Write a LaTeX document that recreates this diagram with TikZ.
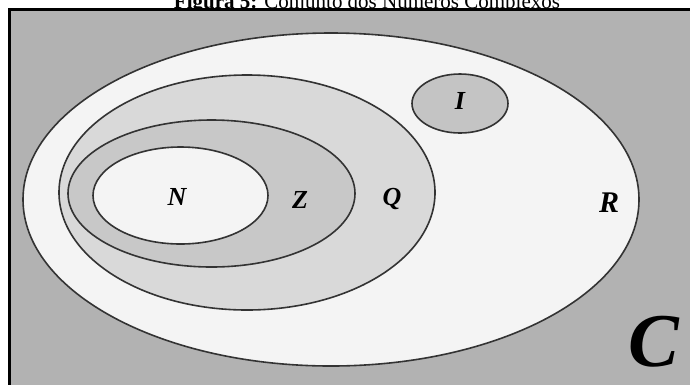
\documentclass[tikz,border=0pt]{standalone}
\usepackage{fontspec}
\setmainfont{Liberation Serif}
\definecolor{bggray}{RGB}{178,178,178}
\definecolor{rfill}{RGB}{244,244,244}
\definecolor{qfill}{RGB}{217,217,217}
\definecolor{zfill}{RGB}{200,200,200}
\definecolor{ifill}{RGB}{196,196,196}
\tikzset{
  setline/.style={draw=black!80, line width=1.6pt},
  setlabel/.style={font=\fontsize{26}{26}\selectfont\bfseries\itshape, inner sep=0pt},
}
\begin{document}
\begin{tikzpicture}[x=1pt, y=-1pt]
\useasboundingbox (0,0) rectangle (690,384);
\clip (0,0) rectangle (690,384);
\fill[white] (0,0) rectangle (690,384);
\node[anchor=base, inner sep=0pt, font=\fontsize{21}{21}\selectfont] (title) at (367,8) {\textbf{Figura 5:} Conjunto dos Números Complexos};
\draw[line width=2.5pt, draw=black, fill=bggray] (9.5,9.5) rectangle (700,400);
\draw[setline, fill=rfill] (331,199.5) ellipse [x radius=308pt, y radius=166.5pt];
\draw[setline, fill=qfill] (247,192.5) ellipse [x radius=188pt, y radius=117.5pt];
\draw[setline, fill=zfill] (211.5,193.5) ellipse [x radius=143.5pt, y radius=73.5pt];
\draw[setline, fill=rfill] (180.5,195.5) ellipse [x radius=87.5pt, y radius=48.5pt];
\draw[setline, fill=ifill] (460,103.5) ellipse [x radius=48pt, y radius=29.5pt];
\node[setlabel] (N) at (177,197) {N};
\node[setlabel] (Z) at (300,200) {Z};
\node[setlabel] (Q) at (392,199) {Q};
\node[setlabel] (I) at (460,101) {I};
\node[setlabel, font=\fontsize{30}{30}\selectfont\bfseries\itshape] (R) at (609,203) {R};
\node[inner sep=0pt, font=\fontsize{76}{76}\selectfont\bfseries\itshape] (C) at (654,342) {C};
\end{tikzpicture}
\end{document}
